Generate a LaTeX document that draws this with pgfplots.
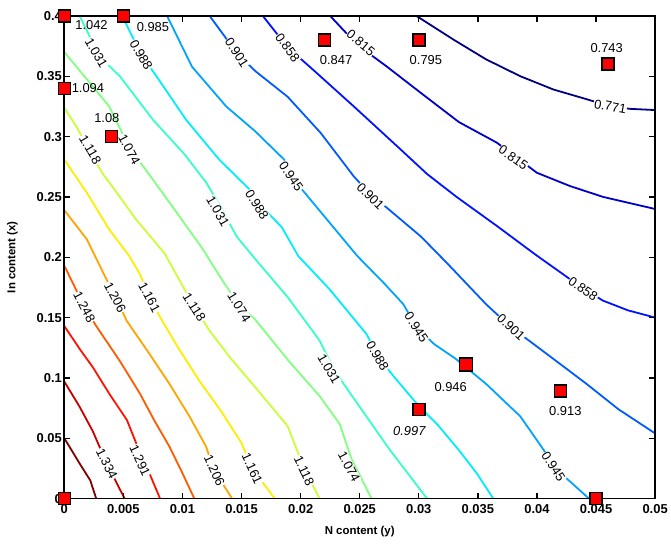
\documentclass[border=0pt]{standalone}
\usepackage{fontspec}
\setmainfont{Liberation Sans}
\usepackage{pgfplots}
\pgfplotsset{compat=1.18}
\definecolor{c0}{RGB}{0,0,128}
\definecolor{c1}{RGB}{0,0,201}
\definecolor{c2}{RGB}{0,18,255}
\definecolor{c3}{RGB}{0,91,255}
\definecolor{c4}{RGB}{0,164,255}
\definecolor{c5}{RGB}{0,237,255}
\definecolor{c6}{RGB}{55,255,200}
\definecolor{c7}{RGB}{128,255,128}
\definecolor{c8}{RGB}{200,255,55}
\definecolor{c9}{RGB}{255,237,0}
\definecolor{c10}{RGB}{255,164,0}
\definecolor{c11}{RGB}{255,91,0}
\definecolor{c12}{RGB}{255,18,0}
\definecolor{c13}{RGB}{201,0,0}
\definecolor{c14}{RGB}{128,0,0}
\tikzset{clab/.style={fill=white, inner sep=0.5pt, text=black, font=\fontsize{13}{13}\selectfont},
  mlab/.style={inner sep=0pt, text=black, font=\fontsize{13}{13}\selectfont}}
\begin{document}
\begin{tikzpicture}
\begin{axis}[
  scale only axis, width=592.5bp, height=484bp,
  xmin=0, xmax=0.05, ymin=0, ymax=0.4,
  clip=false, axis on top, scaled ticks=false,
  xtick={0,0.005,0.01,0.015,0.02,0.025,0.03,0.035,0.04,0.045,0.05},
  xticklabels={0,0.005,0.01,0.015,0.02,0.025,0.03,0.035,0.04,0.045,0.05},
  ytick={0,0.05,0.1,0.15,0.2,0.25,0.3,0.35,0.4},
  yticklabels={0,0.05,0.1,0.15,0.2,0.25,0.3,0.35,0.4},
  tick align=inside, major tick length=6bp,
  axis line style={line width=1.8bp, black},
  tick style={line width=1.3bp, black},
  ticklabel style={font=\bfseries\fontsize{13}{13}\selectfont},
  xticklabel style={yshift=-2bp},
  yticklabel style={xshift=1bp},
  xlabel={N content (y)}, ylabel={In content (x)},
  label style={font=\bfseries\fontsize{11.5}{11.5}\selectfont},
  xlabel style={at={(axis description cs:0.5,-0.068)}, anchor=center},
  ylabel style={at={(axis description cs:-0.088,0.5)}, anchor=center},
  every axis plot/.append style={line width=1.8bp},
]
% contour lines
\addplot[c0] coordinates {(0.0298,0.4)(0.0330,0.380)(0.0357,0.364)(0.0386,0.350)(0.0414,0.339)(0.0442,0.331)(0.0462,0.325)(0.0479,0.323)(0.05,0.322)};
\addplot[c1] coordinates {(0.0225,0.4)(0.0248,0.376)(0.0273,0.358)(0.0302,0.336)(0.0334,0.312)(0.0366,0.295)(0.0400,0.270)(0.0428,0.259)(0.0456,0.250)(0.05,0.240)};
\addplot[c2] coordinates {(0.0168,0.4)(0.0189,0.374)(0.0211,0.355)(0.0245,0.325)(0.0285,0.289)(0.0307,0.269)(0.0332,0.250)(0.0366,0.226)(0.0399,0.202)(0.0422,0.186)(0.0439,0.174)(0.0456,0.164)(0.0477,0.156)(0.05,0.150)};
\addplot[c3] coordinates {(0.0123,0.4)(0.0135,0.384)(0.0146,0.369)(0.0162,0.354)(0.0189,0.333)(0.0217,0.303)(0.0245,0.267)(0.0260,0.251)(0.0273,0.241)(0.0302,0.217)(0.0325,0.194)(0.0357,0.161)(0.0378,0.142)(0.0400,0.126)(0.0442,0.095)(0.0469,0.074)(0.05,0.054)};
\addplot[c4] coordinates {(0.0087,0.4)(0.0097,0.380)(0.0108,0.358)(0.0137,0.325)(0.0162,0.304)(0.0186,0.281)(0.0192,0.267)(0.0203,0.254)(0.0231,0.221)(0.0248,0.201)(0.0271,0.178)(0.0287,0.161)(0.0298,0.142)(0.0313,0.128)(0.0331,0.116)(0.0357,0.095)(0.0386,0.068)(0.0408,0.037)(0.0414,0.026)(0.0427,0.015)(0.0444,0)};
\addplot[c5] coordinates {(0.0049,0.4)(0.0057,0.384)(0.0065,0.368)(0.0078,0.350)(0.0103,0.314)(0.0131,0.281)(0.0157,0.256)(0.0163,0.246)(0.0172,0.237)(0.0184,0.225)(0.0198,0.201)(0.0224,0.174)(0.0256,0.136)(0.0265,0.118)(0.0279,0.101)(0.0298,0.079)(0.0317,0.060)(0.0334,0.040)(0.0349,0.021)(0.0363,0)};
\addplot[c6] coordinates {(0.0013,0.4)(0.0022,0.382)(0.0027,0.369)(0.0047,0.350)(0.0075,0.314)(0.0102,0.285)(0.0120,0.262)(0.0131,0.244)(0.0146,0.217)(0.0162,0.198)(0.0189,0.167)(0.0216,0.131)(0.0228,0.107)(0.0245,0.083)(0.0275,0.041)(0.0307,0)};
\addplot[c7] coordinates {(0,0.370)(0.0017,0.350)(0.0038,0.325)(0.0055,0.291)(0.0070,0.271)(0.0093,0.240)(0.0117,0.207)(0.0133,0.182)(0.0148,0.160)(0.0161,0.149)(0.0190,0.114)(0.0216,0.085)(0.0233,0.062)(0.0243,0.033)(0.0260,0)};
\addplot[c8] coordinates {(0,0.324)(0.0011,0.307)(0.0021,0.289)(0.0032,0.270)(0.0047,0.250)(0.0061,0.231)(0.0085,0.203)(0.0098,0.180)(0.0110,0.159)(0.0123,0.139)(0.0141,0.116)(0.0161,0.093)(0.0189,0.060)(0.0203,0.025)(0.0216,0)};
\addplot[c9] coordinates {(0,0.281)(0.0020,0.252)(0.0038,0.223)(0.0055,0.201)(0.0064,0.186)(0.0072,0.167)(0.0083,0.147)(0.0097,0.124)(0.0114,0.098)(0.0133,0.072)(0.0150,0.046)(0.0159,0.025)(0.0178,0)};
\addplot[c10] coordinates {(0,0.239)(0.0019,0.215)(0.0030,0.193)(0.0043,0.167)(0.0053,0.147)(0.0072,0.120)(0.0089,0.095)(0.0106,0.068)(0.0120,0.043)(0.0127,0.023)(0.0142,0)};
\addplot[c11] coordinates {(0,0.193)(0.0017,0.159)(0.0027,0.143)(0.0047,0.114)(0.0064,0.087)(0.0076,0.065)(0.0089,0.043)(0.0100,0.021)(0.0110,0)};
\addplot[c12] coordinates {(0,0.143)(0.0013,0.124)(0.0024,0.109)(0.0038,0.087)(0.0053,0.065)(0.0062,0.043)(0.0072,0.021)(0.0081,0)};
\addplot[c13] coordinates {(0,0.097)(0.0013,0.076)(0.0024,0.056)(0.0036,0.029)(0.0051,0)};
\addplot[c14] coordinates {(0,0.050)(0.0013,0.029)(0.0022,0.015)(0.0027,0)};
% contour labels
\node[clab, rotate=-10] at (axis cs:0.0462,0.325) {0.771};
\node[clab, rotate=-40] at (axis cs:0.0251,0.3777) {0.815};
\node[clab, rotate=-35] at (axis cs:0.0380,0.2826) {0.815};
\node[clab, rotate=-55] at (axis cs:0.0189,0.3736) {0.858};
\node[clab, rotate=-35] at (axis cs:0.0439,0.1736) {0.858};
\node[clab, rotate=-57] at (axis cs:0.0146,0.3694) {0.901};
\node[clab, rotate=-45] at (axis cs:0.0259,0.2504) {0.901};
\node[clab, rotate=-43] at (axis cs:0.0378,0.1421) {0.901};
\node[clab, rotate=-55] at (axis cs:0.0192,0.2669) {0.945};
\node[clab, rotate=-57] at (axis cs:0.0298,0.1421) {0.945};
\node[clab, rotate=-57] at (axis cs:0.0414,0.0264) {0.945};
\node[clab, rotate=-60] at (axis cs:0.0065,0.3678) {0.988};
\node[clab, rotate=-58] at (axis cs:0.0163,0.2438) {0.988};
\node[clab, rotate=-60] at (axis cs:0.0265,0.1182) {0.988};
\node[clab, rotate=-60] at (axis cs:0.0027,0.3694) {1.031};
\node[clab, rotate=-60] at (axis cs:0.0130,0.2380) {1.031};
\node[clab, rotate=-60] at (axis cs:0.0224,0.1074) {1.031};
\node[clab, rotate=-62] at (axis cs:0.0055,0.2893) {1.074};
\node[clab, rotate=-58] at (axis cs:0.0148,0.1587) {1.074};
\node[clab, rotate=-62] at (axis cs:0.0241,0.0264) {1.074};
\node[clab, rotate=-60] at (axis cs:0.0022,0.2893) {1.118};
\node[clab, rotate=-58] at (axis cs:0.0110,0.1587) {1.118};
\node[clab, rotate=-65] at (axis cs:0.0203,0.0231) {1.118};
\node[clab, rotate=-62] at (axis cs:0.0072,0.1669) {1.161};
\node[clab, rotate=-65] at (axis cs:0.0159,0.0248) {1.161};
\node[clab, rotate=-62] at (axis cs:0.0043,0.1669) {1.206};
\node[clab, rotate=-65] at (axis cs:0.0127,0.0231) {1.206};
\node[clab, rotate=-62] at (axis cs:0.0017,0.1587) {1.248};
\node[clab, rotate=-65] at (axis cs:0.0064,0.0314) {1.291};
\node[clab, rotate=-63] at (axis cs:0.0036,0.0289) {1.334};
% measured points
\addplot[only marks, mark=square*, mark size=6bp, mark options={fill=red, draw=black, line width=1.5bp}]
  coordinates {(0,0.4)(0.005,0.4)(0,0.34)(0.004,0.3)(0.022,0.38)(0.03,0.38)(0.046,0.36)(0.042,0.089)(0.03,0.074)(0,0)(0.045,0)};
\addplot[only marks, mark=square*, mark size=6.5bp, mark options={fill=red, draw=black, line width=1.5bp}]
  coordinates {(0.034,0.111)};
\node[mlab] at (axis cs:0.0023,0.3926) {1.042};
\node[mlab] at (axis cs:0.0075,0.3909) {0.985};
\node[mlab] at (axis cs:0.0020,0.3405) {1.094};
\node[mlab] at (axis cs:0.0036,0.3157) {1.08};
\node[mlab] at (axis cs:0.0230,0.3636) {0.847};
\node[mlab] at (axis cs:0.0306,0.3636) {0.795};
\node[mlab] at (axis cs:0.0459,0.3736) {0.743};
\node[mlab] at (axis cs:0.0327,0.0926) {0.946};
\node[mlab] at (axis cs:0.0424,0.0727) {0.913};
\node[mlab, font=\itshape\fontsize{13}{13}\selectfont] at (axis cs:0.0292,0.0562) {0.997};
\end{axis}
\path (current axis.south west) ++(-64.5bp,-46bp);
\path (current axis.north east) ++(14bp,16bp);
\end{tikzpicture}
\end{document}
